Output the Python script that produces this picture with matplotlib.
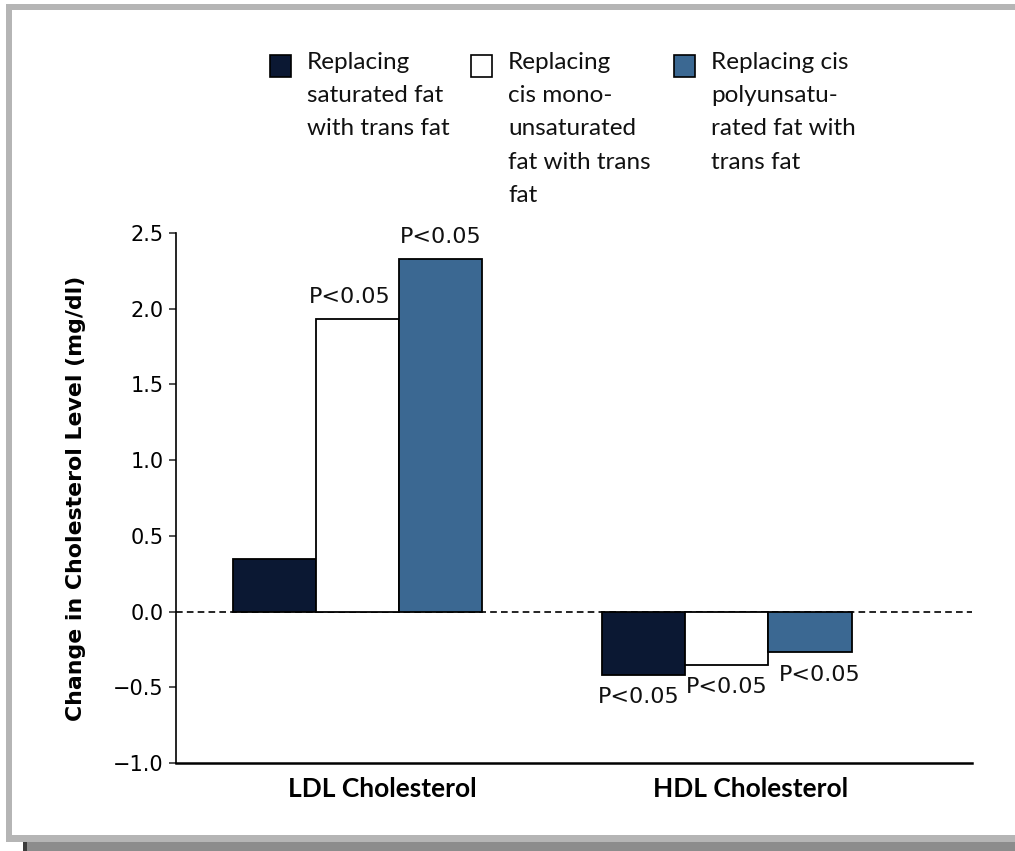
import numpy as np
import matplotlib
matplotlib.use("Agg")
import matplotlib.pyplot as plt
from matplotlib.patches import Rectangle
from matplotlib.transforms import ScaledTranslation

groups = ["LDL Cholesterol", "HDL Cholesterol"]
series_labels = [
    "Replacing\nsaturated fat\nwith trans fat",
    "Replacing\ncis mono-\nunsaturated\nfat with trans\nfat",
    "Replacing cis\npolyunsatu-\nrated fat with\ntrans fat",
]
sat_to_trans = [0.35, -0.42]
mono_to_trans = [1.93, -0.35]
poly_to_trans = [2.33, -0.27]
p_notes = [
    [None, "P<0.05"],
    ["P<0.05", "P<0.05"],
    ["P<0.05", "P<0.05"],
]
yticks = [-1.0, -0.5, 0.0, 0.5, 1.0, 1.5, 2.0, 2.5]

colors = ["#0b1833", "#ffffff", "#3b6892"]
label_font = ["Lato", "DejaVu Sans"]
num_font = "DejaVu Sans"

W, H = 1015, 851
fig = plt.figure(figsize=(W / 100, H / 100), dpi=100)


def px_rect(x0, y0, x1, y1, **kw):
    # rectangle given in pixel coords, origin at top-left
    r = Rectangle((x0 / W, 1 - y1 / H), (x1 - x0) / W, (y1 - y0) / H,
                  transform=fig.transFigure, linewidth=0, zorder=-10, **kw)
    fig.add_artist(r)


# gray frame with drop shadow
px_rect(23, 842, 1100, 860, facecolor="#8c8c8c")
px_rect(23, 842, 27, 860, facecolor="#3c3c3c")
px_rect(6, 4, 1100, 842, facecolor="#b5b5b5")
px_rect(12, 10, 1100, 835, facecolor="white")

ax = fig.add_axes([176 / W, 1 - 763 / H, (972 - 176) / W, (763 - 233) / H])
ax.set_facecolor("none")

x = np.arange(len(groups))
width = 0.225
values = [sat_to_trans, mono_to_trans, poly_to_trans]
note_dx = [[0, -4], [-6, 0], [0, 7]]
for i, vals in enumerate(values):
    pos = x + (i - 1) * width
    bars = ax.bar(pos, vals, width, color=colors[i], edgecolor="black",
                  linewidth=1.3, zorder=3)
    for j, (b, v) in enumerate(zip(bars, vals)):
        note = p_notes[i][j]
        if note is None:
            continue
        dy = 16 if v > 0 else -16
        ax.annotate(note, (b.get_x() + b.get_width() / 2, v),
                    xytext=(note_dx[i][j], dy), textcoords="offset points",
                    ha="center", va="center", fontsize=16,
                    family=num_font, color="#111111")

ax.axhline(0, color="black", linestyle=(0, (4, 2.5)), linewidth=1.2, zorder=2)

ax.set_xlim(-0.493, 1.664)
ax.set_ylim(-1.0, 2.5)
ax.set_yticks(yticks)
ax.set_yticklabels([f"{t:.1f}".replace("-", "\u2212") for t in yticks],
                   family=num_font, fontsize=15)
ax.tick_params(axis="y", length=5, width=1.1, pad=4, color="#222222")
ax.set_xticks(x)
ax.set_xticklabels(groups, family=label_font, fontweight="bold", fontsize=19)
ax.tick_params(axis="x", length=0, pad=10)
shift = ScaledTranslation(24 / 100, 0, fig.dpi_scale_trans)
for lbl in ax.get_xticklabels():
    lbl.set_transform(lbl.get_transform() + shift)

for side in ("top", "right"):
    ax.spines[side].set_visible(False)
ax.spines["left"].set_linewidth(1.2)
ax.spines["bottom"].set_linewidth(1.8)

ylab = ax.set_ylabel("Change in Cholesterol Level (mg/dl)", family=num_font,
                     fontweight="bold", fontsize=15.8)
ylab.set_va("center")
ax.yaxis.set_label_coords((76 - 176) / 796, 0.5)

# legend drawn as swatches with wrapped text beside them
sw_x = [270, 471, 674]
for i, lab in enumerate(series_labels):
    fig.add_artist(Rectangle((sw_x[i] / W, 1 - 77 / H), 21 / W, 22 / H,
                             transform=fig.transFigure, facecolor=colors[i],
                             edgecolor="black", linewidth=1.2, zorder=5))
    fig.text((sw_x[i] + 37) / W, 1 - 52 / H, lab, ha="left", va="top",
             family=label_font, fontsize=17.5, linespacing=1.72,
             color="#111111")

fig.savefig("out.png", dpi=100)
